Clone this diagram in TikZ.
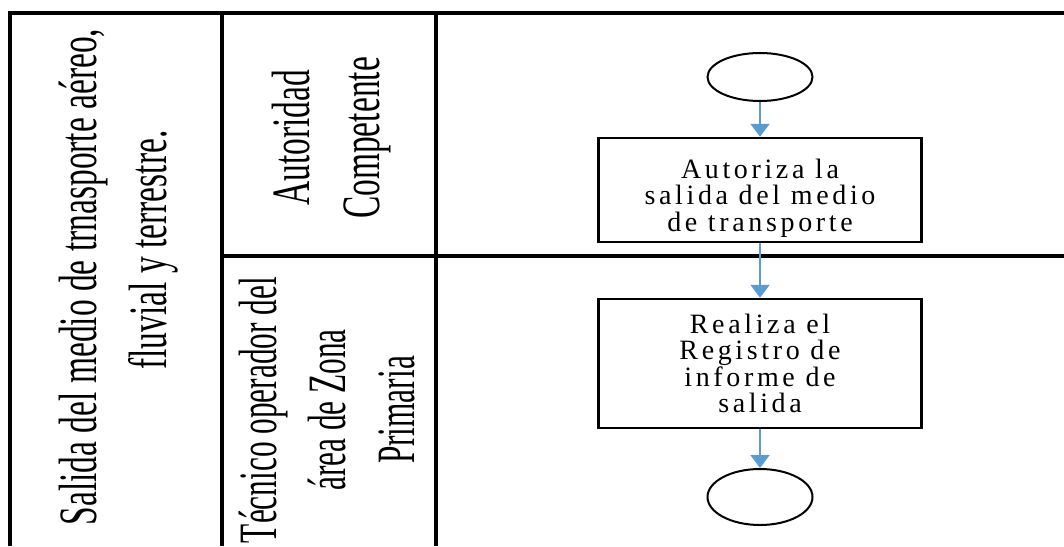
\documentclass[tikz,border=0pt]{standalone}
\usepackage{fontspec}
\setmainfont{Liberation Serif}
\newfontfamily\lanefont[FakeStretch=0.62]{Liberation Serif}
\newfontfamily\lanefontnarrow[FakeStretch=0.58]{Liberation Serif}
\newfontfamily\boxfont[LetterSpace=13]{Liberation Serif}
\usetikzlibrary{arrows.meta,shapes.geometric}
\definecolor{flowblue}{RGB}{91,155,213}
\begin{document}
\begin{tikzpicture}[x=1pt,y=1pt,
  lane/.style={line width=3.5pt,draw=black},
  lanelabel/.style={rotate=90,font=\lanefont\fontsize{54}{70}\selectfont,align=center,inner sep=0pt},
  boxtext/.style={font=\boxfont\fontsize{28}{26.5}\selectfont,align=center,inner sep=0pt},
  procbox/.style={draw,line width=2.5pt,minimum width=323pt,minimum height=104pt,boxtext},
  terminal/.style={draw,ellipse,line width=2pt,minimum width=105pt,minimum height=48pt,inner sep=0pt},
  flow/.style={draw=flowblue,line width=2pt,-{Triangle[width=19pt,length=13pt]}}]
\useasboundingbox (0,0) rectangle (1064,-546);
% swimlane frame
\draw[lane] (10,-546) -- (10,-13) -- (1064,-13);
\draw[lane] (222,-13) -- (222,-546);
\draw[lane] (436,-13) -- (436,-546);
\draw[lane] (222,-256) -- (1064,-256);
% lane labels
\node[lanelabel] (pool) at (119,-277) {Salida del medio de trnasporte aéreo,\\\hspace*{54pt}fluvial y terrestre.};
\node[lanelabel] (laneA) at (332,-138) {Autoridad\\Competente};
\node[lanelabel,font=\lanefontnarrow\fontsize{54}{69}\selectfont] (laneB) at (327,-410) {Técnico operador del\\área de Zona\\Primaria};
% flow
\node[terminal] (start) at (760,-77) {};
\node[procbox] (box1) at (760,-190) {};
\node[boxtext] (t1) at (760,-198) {Autoriza la\\salida del medio\\de transporte};
\node[procbox,minimum height=129pt] (box2) at (760,-363.5) {Realiza el\\Registro de\\informe de\\salida};
\node[terminal,minimum height=56pt] (stop) at (760,-497) {};
\draw[flow] (start) -- (box1);
\draw[flow] (box1) -- (box2);
\draw[flow] (box2) -- (stop);
\end{tikzpicture}
\end{document}
